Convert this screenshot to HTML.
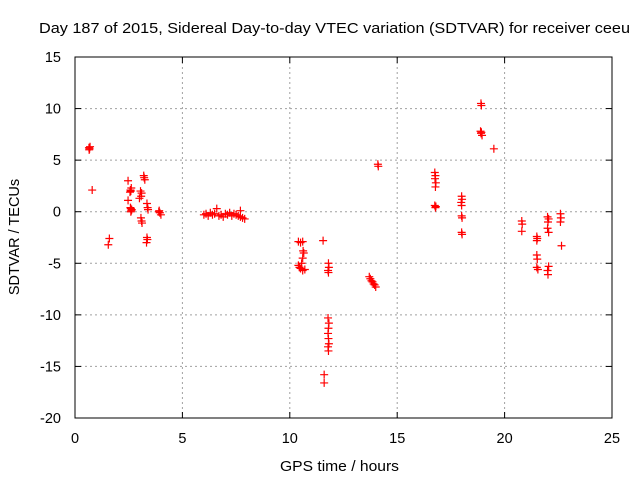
<!DOCTYPE html>
<html><head><meta charset="utf-8"><style>
body{margin:0;background:#fff;width:640px;height:480px;overflow:hidden}
svg{font-family:"Liberation Sans",sans-serif;font-size:14.5px}
</style></head><body>
<svg id="chart" width="640" height="480">
<text x="39" y="33" font-size="15" textLength="591" lengthAdjust="spacingAndGlyphs">Day 187 of 2015, Sidereal Day-to-day VTEC variation (SDTVAR) for receiver ceeu</text>
<g id="grid"></g>
<g id="axes"></g>
<g id="pts"></g>
<text x="280" y="471" textLength="119" lengthAdjust="spacingAndGlyphs">GPS time / hours</text>
<text transform="translate(19,237) rotate(-90)" text-anchor="middle">SDTVAR / TECUs</text>
</svg>
<script>
const xTicks=[0,5,10,15,20,25];
const yTicks=[15,10,5,0,-5,-10,-15,-20];
const times=[0.65,0.68,0.7,0.66,0.8,1.6,1.55,2.47,2.47,2.58,2.6,2.62,2.56,2.6,2.62,2.58,2.64,2.6,3.05,3.1,3.08,3.0,3.07,3.1,3.12,3.2,3.22,3.25,3.35,3.38,3.4,3.35,3.37,3.33,3.9,3.95,3.92,4.0,
6.0,6.1,6.2,6.3,6.4,6.5,6.6,6.7,6.8,6.9,7.0,7.1,7.2,7.3,7.4,7.5,7.6,7.7,7.8,7.9,7.7,
10.4,10.5,10.6,10.65,10.6,10.62,10.55,10.4,10.45,10.5,10.6,10.7,
11.55,11.8,11.82,11.78,11.8,11.78,11.82,11.8,11.78,11.8,11.82,11.78,11.8,11.6,11.6,
13.7,13.75,13.8,13.85,13.9,13.95,14.0,14.1,14.12,
16.75,16.78,16.76,16.8,16.78,16.75,16.8,16.78,
18.0,18.02,17.98,18.0,18.0,18.02,18.0,18.02,
18.9,18.92,18.88,18.9,18.95,18.92,19.5,
20.8,20.82,20.8,
21.5,21.52,21.5,21.5,21.52,21.5,21.55,
22.0,22.05,22.02,22.0,22.05,22.05,22.0,22.02,
22.6,22.62,22.6,22.65];
const values=[6.2,6.1,6.3,6.0,2.1,-2.6,-3.2,3.0,1.1,2.1,2.0,2.3,1.9,0.3,0.1,0.4,0.2,0.0,2.0,1.8,1.5,1.3,-0.6,-0.9,-1.1,3.5,3.3,3.1,0.8,0.4,0.2,-2.5,-2.7,-3.0,0.0,-0.1,0.1,-0.3,
-0.3,-0.2,-0.4,-0.1,-0.3,-0.2,0.3,-0.4,-0.3,-0.5,-0.2,-0.3,-0.1,-0.4,-0.2,-0.3,-0.4,-0.5,-0.6,-0.7,0.1,
-2.9,-3.0,-2.9,-4.0,-4.5,-3.8,-5.0,-5.2,-5.4,-5.5,-5.7,-5.6,
-2.8,-5.0,-5.4,-5.7,-5.9,-10.3,-10.8,-11.3,-11.8,-12.3,-12.8,-13.1,-13.5,-15.8,-16.6,
-6.3,-6.5,-6.7,-6.8,-7.0,-7.1,-7.3,4.6,4.4,
3.8,3.5,3.2,2.8,2.4,0.6,0.5,0.4,
1.5,1.2,0.9,0.6,-0.4,-0.6,-2.0,-2.2,
10.5,10.3,7.8,7.6,7.4,7.7,6.1,
-0.9,-1.2,-1.9,
-2.4,-2.6,-2.8,-4.2,-4.6,-5.4,-5.6,
-0.5,-0.7,-1.0,-1.6,-2.0,-5.3,-5.7,-6.1,
-0.2,-0.6,-1.0,-3.3];
const NS='http://www.w3.org/2000/svg';
const L=75,R=612,T=57,B=418;
const sx=v=>L+(v-0)/(25-0)*(R-L);
const sy=v=>T+(15-v)/(15+20)*(B-T);
function mk(tag,attrs,parent){const e=document.createElementNS(NS,tag);for(const k in attrs)e.setAttribute(k,attrs[k]);parent.appendChild(e);return e;}
const grid=document.getElementById('grid'),axes=document.getElementById('axes'),pts=document.getElementById('pts');
xTicks.forEach(t=>{
  const x=sx(t);
  if(t>0&&t<25){const g=mk('line',{x1:x,x2:x,y1:T,y2:B,stroke:'#a0a0a0','stroke-dasharray':'2,3'},grid);
  
  }
  mk('line',{x1:x,x2:x,y1:B,y2:B-6,stroke:'#000'},axes);
  mk('line',{x1:x,x2:x,y1:T,y2:T+6,stroke:'#000'},axes);
  const tx=mk('text',{x:x,y:B+25,'text-anchor':'middle'},axes);tx.textContent=t;
  
  
});
yTicks.forEach(t=>{
  const y=sy(t);
  if(t<15&&t>-20){const g=mk('line',{x1:L,x2:R,y1:y,y2:y,stroke:'#a0a0a0','stroke-dasharray':'2,3'},grid);
  
  }
  mk('line',{x1:L,x2:L+6,y1:y,y2:y,stroke:'#000'},axes);
  mk('line',{x1:R,x2:R-6,y1:y,y2:y,stroke:'#000'},axes);
  const tx=mk('text',{x:L-14,y:y+5,'text-anchor':'end'},axes);tx.textContent=t;
  
  
});
mk('rect',{x:L,y:T,width:R-L,height:B-T,fill:'none',stroke:'#000'},axes);
times.forEach((t,i)=>{
  const x=sx(t),y=sy(values[i]);
  const p=mk('path',{d:`M${x-4},${y}H${x+4}M${x},${y-4}V${y+4}`,stroke:'#ff0000','stroke-width':1.2},pts);
  
  
});
</script>
</body></html>
